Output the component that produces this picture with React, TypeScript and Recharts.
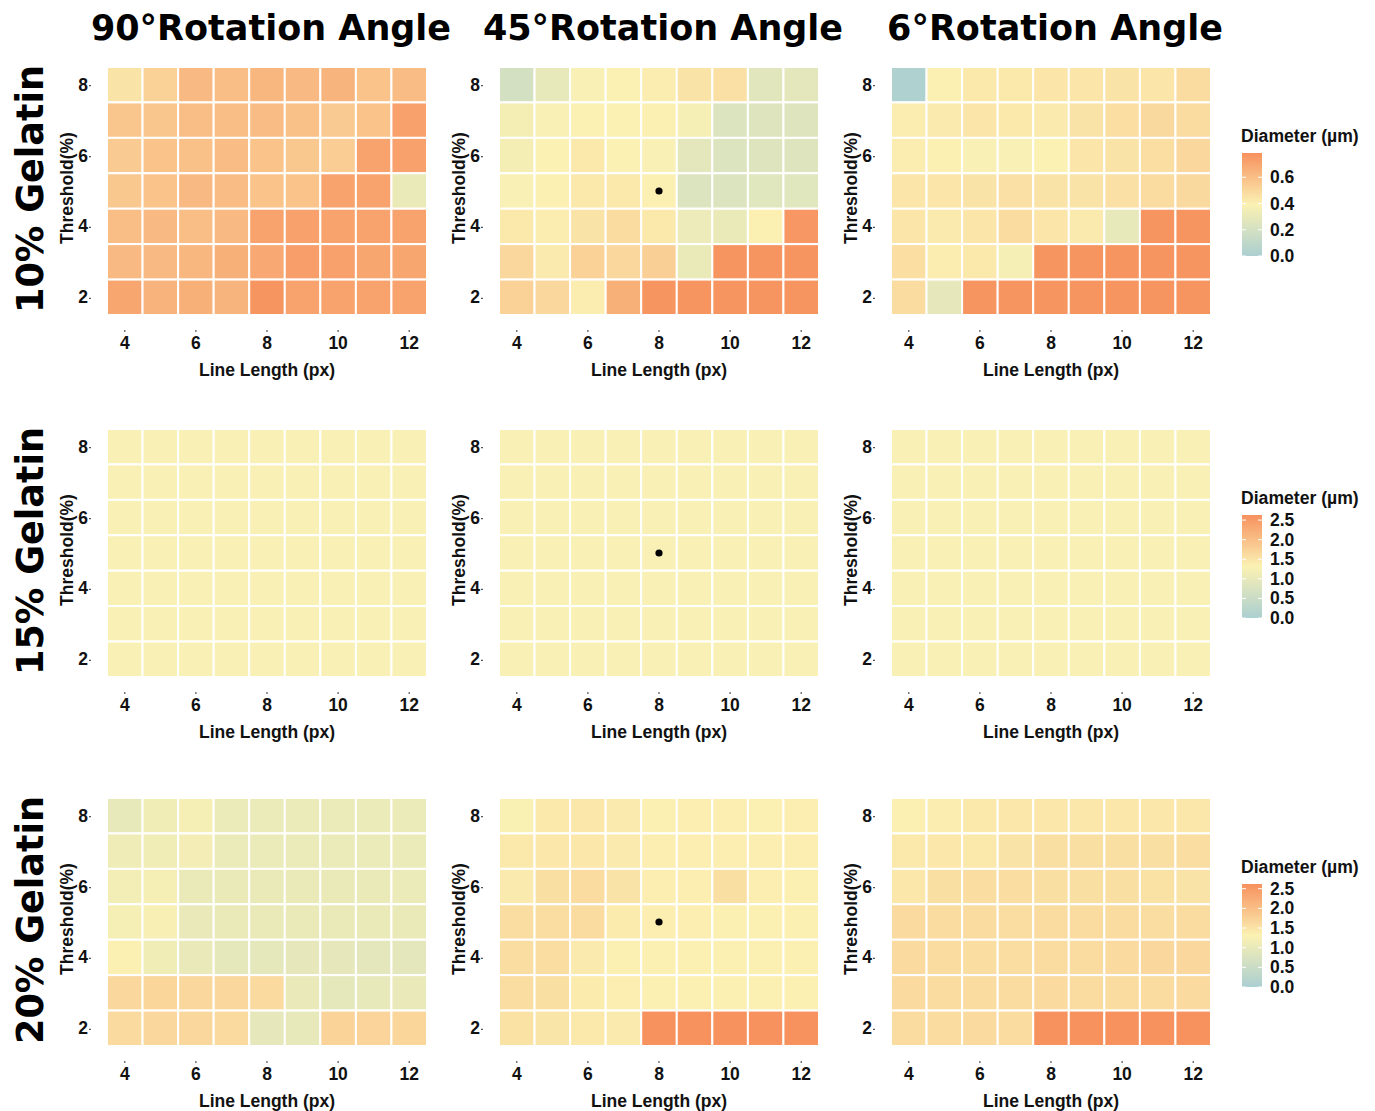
import React from 'react';
import { ScatterChart, Scatter, XAxis, YAxis, Label } from 'recharts';

// ---------- categories & tick labels ----------
const lineLengths = [4, 5, 6, 7, 8, 9, 10, 11, 12];
const thresholds = [8, 7, 6, 5, 4, 3, 2]; // rows, top to bottom
const xTicks = [4, 6, 8, 10, 12];
const yTicks = [2, 4, 6, 8];
const angleTitles = ['90°Rotation Angle', '45°Rotation Angle', '6°Rotation Angle'];
const gelatinLabels = ['10% Gelatin', '15% Gelatin', '20% Gelatin'];
const legendTitle = 'Diameter (µm)';
const legendTicks10 = [0.0, 0.2, 0.4, 0.6];
const legendTicks15 = [0.0, 0.5, 1.0, 1.5, 2.0, 2.5];
const legendTicks20 = [0.0, 0.5, 1.0, 1.5, 2.0, 2.5];
const scaleMax10 = 0.785;
const scaleMax15 = 2.63;
const scaleMax20 = 2.62;
const markerPoints = [{ len: 8, thr: 5 }];

// ---------- series values (rows: threshold 8 -> 2, cols: line length 4 -> 12) ----------
const gel10_rot90 = [
  [0.45, 0.52, 0.62, 0.60, 0.63, 0.62, 0.64, 0.58, 0.61],
  [0.57, 0.57, 0.60, 0.60, 0.61, 0.59, 0.55, 0.58, 0.72],
  [0.55, 0.58, 0.59, 0.61, 0.58, 0.56, 0.54, 0.71, 0.72],
  [0.56, 0.58, 0.62, 0.61, 0.58, 0.58, 0.71, 0.71, 0.31],
  [0.60, 0.62, 0.60, 0.62, 0.71, 0.72, 0.71, 0.71, 0.71],
  [0.62, 0.62, 0.63, 0.66, 0.69, 0.73, 0.72, 0.70, 0.70],
  [0.70, 0.65, 0.66, 0.64, 0.77, 0.71, 0.71, 0.71, 0.71],
];
const gel10_rot45 = [
  [0.20, 0.30, 0.38, 0.39, 0.41, 0.45, 0.46, 0.27, 0.28],
  [0.36, 0.38, 0.39, 0.39, 0.40, 0.37, 0.24, 0.25, 0.25],
  [0.36, 0.39, 0.43, 0.39, 0.38, 0.28, 0.24, 0.25, 0.25],
  [0.38, 0.40, 0.43, 0.43, 0.40, 0.24, 0.24, 0.26, 0.26],
  [0.43, 0.41, 0.45, 0.48, 0.43, 0.32, 0.31, 0.40, 0.76],
  [0.50, 0.42, 0.52, 0.50, 0.53, 0.31, 0.77, 0.77, 0.77],
  [0.52, 0.50, 0.41, 0.66, 0.77, 0.77, 0.77, 0.77, 0.77],
];
const gel10_rot6 = [
  [0.02, 0.40, 0.43, 0.43, 0.44, 0.44, 0.45, 0.44, 0.48],
  [0.41, 0.42, 0.44, 0.43, 0.42, 0.45, 0.47, 0.49, 0.48],
  [0.41, 0.40, 0.38, 0.38, 0.39, 0.44, 0.45, 0.47, 0.50],
  [0.44, 0.44, 0.45, 0.46, 0.45, 0.45, 0.46, 0.48, 0.49],
  [0.44, 0.42, 0.44, 0.48, 0.44, 0.42, 0.30, 0.77, 0.77],
  [0.47, 0.41, 0.43, 0.37, 0.77, 0.77, 0.77, 0.77, 0.77],
  [0.48, 0.29, 0.77, 0.77, 0.77, 0.77, 0.77, 0.77, 0.77],
];
const gel15_rot90 = [
  [1.26, 1.26, 1.26, 1.26, 1.26, 1.26, 1.26, 1.26, 1.26],
  [1.26, 1.26, 1.26, 1.26, 1.26, 1.26, 1.26, 1.26, 1.26],
  [1.26, 1.26, 1.26, 1.26, 1.26, 1.26, 1.26, 1.26, 1.26],
  [1.26, 1.26, 1.26, 1.26, 1.26, 1.26, 1.26, 1.26, 1.26],
  [1.26, 1.26, 1.26, 1.26, 1.26, 1.26, 1.26, 1.26, 1.26],
  [1.26, 1.26, 1.26, 1.26, 1.26, 1.26, 1.26, 1.26, 1.26],
  [1.26, 1.26, 1.26, 1.26, 1.26, 1.26, 1.26, 1.26, 1.26],
];
const gel15_rot45 = [
  [1.27, 1.27, 1.27, 1.27, 1.27, 1.27, 1.27, 1.27, 1.27],
  [1.27, 1.27, 1.27, 1.27, 1.27, 1.27, 1.27, 1.27, 1.27],
  [1.27, 1.27, 1.27, 1.27, 1.27, 1.27, 1.27, 1.27, 1.27],
  [1.27, 1.27, 1.27, 1.27, 1.27, 1.27, 1.27, 1.27, 1.27],
  [1.27, 1.27, 1.27, 1.27, 1.27, 1.27, 1.27, 1.27, 1.27],
  [1.27, 1.27, 1.27, 1.27, 1.27, 1.27, 1.27, 1.27, 1.27],
  [1.27, 1.27, 1.27, 1.27, 1.27, 1.27, 1.27, 1.27, 1.27],
];
const gel15_rot6 = [
  [1.27, 1.27, 1.27, 1.27, 1.27, 1.27, 1.27, 1.27, 1.27],
  [1.27, 1.27, 1.27, 1.27, 1.27, 1.27, 1.27, 1.27, 1.27],
  [1.27, 1.27, 1.27, 1.27, 1.27, 1.27, 1.27, 1.27, 1.27],
  [1.27, 1.27, 1.27, 1.27, 1.27, 1.27, 1.27, 1.27, 1.27],
  [1.27, 1.27, 1.27, 1.27, 1.27, 1.27, 1.27, 1.27, 1.27],
  [1.27, 1.27, 1.27, 1.27, 1.27, 1.27, 1.27, 1.27, 1.27],
  [1.27, 1.27, 1.27, 1.27, 1.27, 1.27, 1.27, 1.27, 1.27],
];
const gel20_rot90 = [
  [1.00, 1.15, 1.22, 1.05, 1.05, 1.05, 1.05, 1.05, 1.05],
  [1.12, 1.15, 1.20, 1.05, 1.05, 1.05, 1.05, 1.05, 1.05],
  [1.18, 1.22, 1.03, 1.03, 1.03, 1.03, 1.03, 1.03, 1.05],
  [1.22, 1.25, 1.02, 1.03, 1.03, 1.03, 1.03, 1.03, 1.03],
  [1.32, 1.15, 1.02, 0.95, 0.95, 0.97, 0.96, 0.93, 0.93],
  [1.65, 1.68, 1.65, 1.66, 1.63, 1.02, 0.95, 1.00, 1.02],
  [1.63, 1.65, 1.65, 1.63, 0.97, 0.99, 1.72, 1.70, 1.68],
];
const gel20_rot45 = [
  [1.28, 1.42, 1.45, 1.40, 1.32, 1.35, 1.35, 1.32, 1.35],
  [1.42, 1.45, 1.45, 1.40, 1.35, 1.35, 1.35, 1.35, 1.35],
  [1.40, 1.55, 1.60, 1.50, 1.35, 1.35, 1.55, 1.35, 1.33],
  [1.58, 1.58, 1.60, 1.38, 1.35, 1.35, 1.33, 1.33, 1.32],
  [1.58, 1.58, 1.40, 1.33, 1.33, 1.33, 1.33, 1.32, 1.33],
  [1.58, 1.55, 1.38, 1.35, 1.33, 1.33, 1.33, 1.33, 1.33],
  [1.52, 1.48, 1.42, 1.40, 2.62, 2.62, 2.62, 2.62, 2.62],
];
const gel20_rot6 = [
  [1.33, 1.36, 1.42, 1.45, 1.45, 1.45, 1.45, 1.45, 1.45],
  [1.42, 1.45, 1.43, 1.50, 1.55, 1.55, 1.55, 1.55, 1.58],
  [1.45, 1.55, 1.58, 1.58, 1.55, 1.55, 1.55, 1.52, 1.50],
  [1.62, 1.60, 1.60, 1.58, 1.60, 1.60, 1.60, 1.58, 1.60],
  [1.62, 1.60, 1.58, 1.58, 1.60, 1.60, 1.62, 1.66, 1.65],
  [1.62, 1.60, 1.60, 1.60, 1.62, 1.60, 1.60, 1.60, 1.62],
  [1.60, 1.60, 1.62, 1.60, 2.62, 2.62, 2.62, 2.62, 2.62],
];

// ---------- layout / style ----------
const COLOR_LOW = '#abcfd1';
const COLOR_MID = '#fbf1b3';
const COLOR_HIGH = '#f7915e';
const PLOT_W = 320;
const PLOT_H = 248;
const Y_AXIS_W = 60;
const X_AXIS_H = 75;
const M_TOP = 10;
const M_RIGHT = 10;
const CHART_W = Y_AXIS_W + PLOT_W + M_RIGHT;
const CHART_H = M_TOP + PLOT_H + X_AXIS_H;
const PLOT_LEFTS = [107, 499, 891];
const PLOT_TOPS = [67, 429, 798];
const LEGEND_X = 1242;
const BAR_W = 20;
const SANS = '"Liberation Sans", Arial, sans-serif';
const TITLE_FONT = '"DejaVu Sans", sans-serif';

const panels = [
  [gel10_rot90, gel10_rot45, gel10_rot6],
  [gel15_rot90, gel15_rot45, gel15_rot6],
  [gel20_rot90, gel20_rot45, gel20_rot6],
];
const rowMax = [scaleMax10, scaleMax15, scaleMax20];
const rowLegendTicks = [legendTicks10, legendTicks15, legendTicks20];

function hexToRgb(h: string) {
  const n = parseInt(h.slice(1), 16);
  return [(n >> 16) & 255, (n >> 8) & 255, n & 255];
}
function mix(a: string, b: string, t: number) {
  const A = hexToRgb(a), B = hexToRgb(b);
  const c = A.map((v, i) => Math.round(v + (B[i] - v) * t));
  return `rgb(${c[0]},${c[1]},${c[2]})`;
}
function colorFor(v: number, max: number) {
  const t = Math.max(0, Math.min(1, v / max));
  return t < 0.5 ? mix(COLOR_LOW, COLOR_MID, t * 2) : mix(COLOR_MID, COLOR_HIGH, (t - 0.5) * 2);
}

const XTick = (props: any) => {
  const { x, y, payload } = props;
  return (
    <g>
      <line x1={x} x2={x} y1={y + 15} y2={y + 17} stroke="#555" strokeWidth={1.2} />
      <text x={x} y={y + 34} textAnchor="middle" fontFamily={SANS} fontWeight={700} fontSize={17.5} fill="#111">
        {payload.value}
      </text>
    </g>
  );
};
const YTick = (props: any) => {
  const { x, y, payload } = props;
  return (
    <g>
      <line x1={x - 18} x2={x - 16} y1={y + 1} y2={y + 1} stroke="#555" strokeWidth={1.2} />
      <text x={x - 19} y={y + 6} textAnchor="end" fontFamily={SANS} fontWeight={700} fontSize={17.5} fill="#111">
        {payload.value}
      </text>
    </g>
  );
};
const XTitle = (props: any) => {
  const vb = props.viewBox || { x: Y_AXIS_W, y: M_TOP + PLOT_H, width: PLOT_W };
  return (
    <text x={vb.x + vb.width / 2} y={vb.y + 61} textAnchor="middle" fontFamily={SANS} fontWeight={700} fontSize={17.5} fill="#111">
      Line Length (px)
    </text>
  );
};
const YTitle = (props: any) => {
  const vb = props.viewBox || { x: 0, y: M_TOP, width: Y_AXIS_W, height: PLOT_H };
  const cx = vb.x + vb.width - 40;
  const cy = vb.y + vb.height / 2 - 3;
  return (
    <text x={cx} y={cy} transform={`rotate(-90, ${cx}, ${cy})`} textAnchor="middle" dominantBaseline="central" fontFamily={SANS} fontWeight={700} fontSize={17.5} fill="#111">
      Threshold(%)
    </text>
  );
};

function Heatmap({ matrix, max, showMarker }: { matrix: number[][]; max: number; showMarker: boolean }) {
  const data: { len: number; thr: number; value: number }[] = [];
  thresholds.forEach((thr, i) => lineLengths.forEach((len, j) => data.push({ len, thr, value: matrix[i][j] })));
  const cw = PLOT_W / lineLengths.length;
  const ch = PLOT_H / thresholds.length;
  const CellShape = (p: any) => (
    <rect x={p.cx - cw / 2} y={p.cy - ch / 2} width={cw} height={ch} fill={colorFor(p.payload.value, max)} stroke="#ffffff" strokeWidth={2} />
  );
  const DotShape = (p: any) => <circle cx={p.cx} cy={p.cy} r={3.6} fill="#000" />;
  return (
    <ScatterChart width={CHART_W} height={CHART_H} margin={{ top: M_TOP, right: M_RIGHT, bottom: 0, left: 0 }}>
      <XAxis type="number" dataKey="len" domain={[3.5, 12.5]} ticks={xTicks} height={X_AXIS_H} tickSize={0} tickMargin={0} axisLine={false} tickLine={false} tick={<XTick />} interval={0}>
        <Label content={<XTitle />} />
      </XAxis>
      <YAxis type="number" dataKey="thr" domain={[1.5, 8.5]} ticks={yTicks} width={Y_AXIS_W} tickSize={0} tickMargin={0} axisLine={false} tickLine={false} tick={<YTick />} interval={0}>
        <Label content={<YTitle />} />
      </YAxis>
      <Scatter data={data} shape={CellShape} isAnimationActive={false} />
      {showMarker && <Scatter data={markerPoints} shape={DotShape} isAnimationActive={false} />}
    </ScatterChart>
  );
}

function ColorLegend({ top, max, ticks, idx }: { top: number; max: number; ticks: number[]; idx: number }) {
  const barTop = top + 86;
  const barBottom = top + 189;
  const barH = barBottom - barTop;
  const yOf = (v: number) => barBottom - (v / max) * barH;
  const gid = `grad${idx}`;
  return (
    <g>
      <defs>
        <linearGradient id={gid} x1="0" y1="1" x2="0" y2="0">
          <stop offset="0%" stopColor={COLOR_LOW} />
          <stop offset="50%" stopColor={COLOR_MID} />
          <stop offset="100%" stopColor={COLOR_HIGH} />
        </linearGradient>
      </defs>
      <text x={LEGEND_X - 1} y={top + 75} fontFamily={SANS} fontWeight={700} fontSize={17.6} fill="#111">
        {legendTitle}
      </text>
      <rect x={LEGEND_X} y={barTop} width={BAR_W} height={barH} fill={`url(#${gid})`} />
      {ticks.map((t) => (
        <g key={t}>
          <line x1={LEGEND_X} x2={LEGEND_X + 4} y1={yOf(t)} y2={yOf(t)} stroke="#fff" strokeWidth={1} />
          <line x1={LEGEND_X + BAR_W - 4} x2={LEGEND_X + BAR_W} y1={yOf(t)} y2={yOf(t)} stroke="#fff" strokeWidth={1} />
          <text x={LEGEND_X + 28} y={yOf(t) + 6} fontFamily={SANS} fontWeight={700} fontSize={17.5} fill="#111">
            {t.toFixed(1)}
          </text>
        </g>
      ))}
    </g>
  );
}

export default function App() {
  return (
    <div style={{ position: 'relative', width: 1375, height: 1111, background: '#fff', overflow: 'hidden' }}>
      <style>{'body{margin:0;background:#fff;}'}</style>
      <svg width={1375} height={1111} style={{ position: 'absolute', left: 0, top: 0 }}>
        {angleTitles.map((t, c) => (
          <text key={t} x={PLOT_LEFTS[c] + PLOT_W / 2 + 4} y={40} textAnchor="middle" fontFamily={TITLE_FONT} fontWeight={700} fontSize={35} fill="#000">
            {t}
          </text>
        ))}
        {gelatinLabels.map((t, r) => {
          const cx = 30;
          const cy = PLOT_TOPS[r] + PLOT_H / 2 - 2;
          return (
            <text key={t} x={cx} y={cy} transform={`rotate(-90, ${cx}, ${cy})`} textAnchor="middle" dominantBaseline="central" fontFamily={TITLE_FONT} fontWeight={700} fontSize={36.5} fill="#000">
              {t}
            </text>
          );
        })}
        {PLOT_TOPS.map((top, r) => (
          <ColorLegend key={r} idx={r} top={top} max={rowMax[r]} ticks={rowLegendTicks[r]} />
        ))}
      </svg>
      {panels.map((row, r) =>
        row.map((matrix, c) => (
          <div key={`${r}-${c}`} style={{ position: 'absolute', left: PLOT_LEFTS[c] - Y_AXIS_W, top: PLOT_TOPS[r] - M_TOP }}>
            <Heatmap matrix={matrix} max={rowMax[r]} showMarker={c === 1} />
          </div>
        ))
      )}
    </div>
  );
}
